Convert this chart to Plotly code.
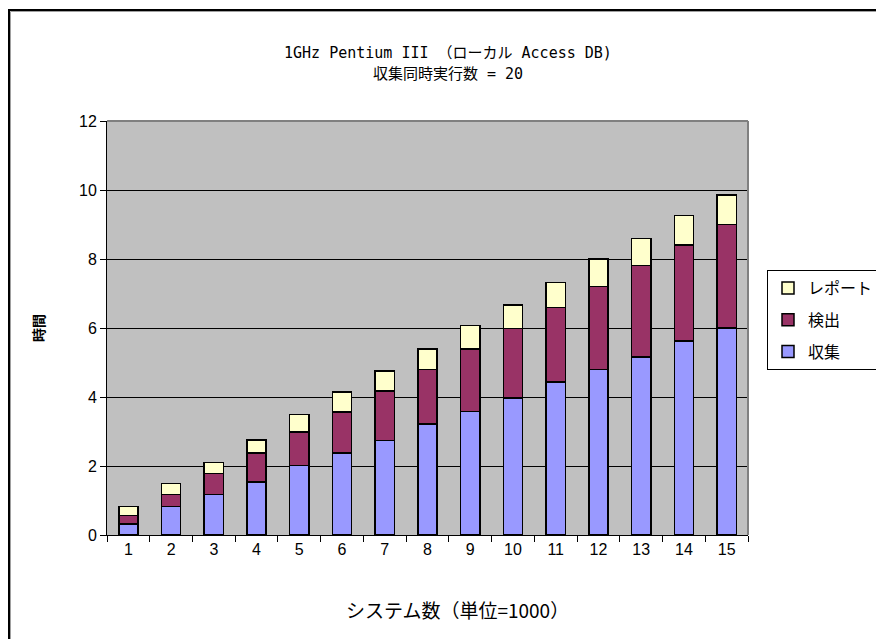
import plotly.graph_objects as go

categories = [str(i) for i in range(1, 16)]
collect = [0.32, 0.82, 1.18, 1.54, 2.02, 2.38, 2.74, 3.22, 3.58, 3.97, 4.43, 4.80, 5.16, 5.63, 6.00]
detect = [0.25, 0.36, 0.60, 0.83, 0.97, 1.19, 1.44, 1.58, 1.81, 2.02, 2.16, 2.41, 2.65, 2.77, 3.00]
report = [0.26, 0.31, 0.32, 0.38, 0.50, 0.57, 0.57, 0.59, 0.68, 0.68, 0.73, 0.79, 0.79, 0.86, 0.85]
series_names = ["収集", "検出", "レポート"]
colors = ["#9999FF", "#993366", "#FFFFCC"]
legend_ranks = [3, 2, 1]

W, H = 884, 639
L, R, T, B = 99, 740, 113, 527

def px_x(p):
    return (p - L) / (R - L)

def px_y(p):
    return (B - p) / (B - T)

fig = go.Figure()
for name, vals, c, rk in zip(series_names, [collect, detect, report], colors, legend_ranks):
    fig.add_trace(go.Bar(x=categories, y=vals, name=name, legendgroup=name,
                         legendrank=rk,
                         marker=dict(color=c, line=dict(color="black", width=1.5))))

jp = "Noto Sans CJK JP, sans-serif"
mono = "DejaVu Sans Mono, Noto Sans CJK JP, monospace"
ar = "Liberation Sans, Arial, sans-serif"

def ann(text, x, y, font, angle=0):
    return dict(text=text, x=px_x(x), y=px_y(y), xref="paper", yref="paper",
                showarrow=False, xanchor="center", yanchor="middle",
                textangle=angle, font=font, borderpad=0)

fig.update_layout(
    width=W, height=H,
    barmode="stack", bargap=0.55,
    paper_bgcolor="white", plot_bgcolor="#C0C0C0",
    margin=dict(l=L, r=W - R, t=T, b=H - B, pad=0, autoexpand=False),
    showlegend=True,
    legend=dict(x=px_x(759), y=px_y(262), xanchor="left", yanchor="top",
                bordercolor="black", borderwidth=1, bgcolor="white",
                font=dict(family=jp, size=16, color="black"),
                traceorder="grouped", itemwidth=30, tracegroupgap=8),
    xaxis=dict(type="category", tickson="boundaries", ticks="outside", ticklen=6,
               tickcolor="black", showline=True, linecolor="black", linewidth=1,
               showgrid=False, tickfont=dict(family=ar, size=16, color="black")),
    yaxis=dict(range=[0, 12], dtick=2, ticks="outside", ticklen=6, tickcolor="black",
               showline=True, linecolor="black", linewidth=1, showgrid=True,
               gridcolor="black", gridwidth=1, zeroline=False,
               tickfont=dict(family=ar, size=16, color="black")),
    annotations=[
        ann("1GHz Pentium III （ローカル Access DB)", 440, 45,
            dict(family=mono, size=15, color="black")),
        ann("収集同時実行数 = 20", 440, 66,
            dict(family=mono, size=15, color="black")),
        ann("<b>時間</b>", 30, 320, dict(family=jp, size=14, color="black"), -90),
        ann("システム数（単位=1000）", 449, 601,
            dict(family=jp, size=19, color="black")),
    ],
    shapes=[
        dict(type="rect", xref="paper", yref="paper", x0=px_x(1), x1=px_x(900),
             y0=px_y(660), y1=px_y(2), line=dict(color="black", width=2)),
        dict(type="rect", xref="paper", yref="paper", x0=px_x(2.5), x1=px_x(900),
             y0=px_y(660), y1=px_y(3.5), line=dict(color="#A0A0A0", width=1)),
        dict(type="line", xref="paper", yref="paper", x0=0, x1=1, y0=1, y1=1,
             line=dict(color="#808080", width=2)),
        dict(type="line", xref="paper", yref="paper", x0=1, x1=1, y0=0, y1=1,
             line=dict(color="#808080", width=2)),
    ],
)

fig.write_html("out.html")
